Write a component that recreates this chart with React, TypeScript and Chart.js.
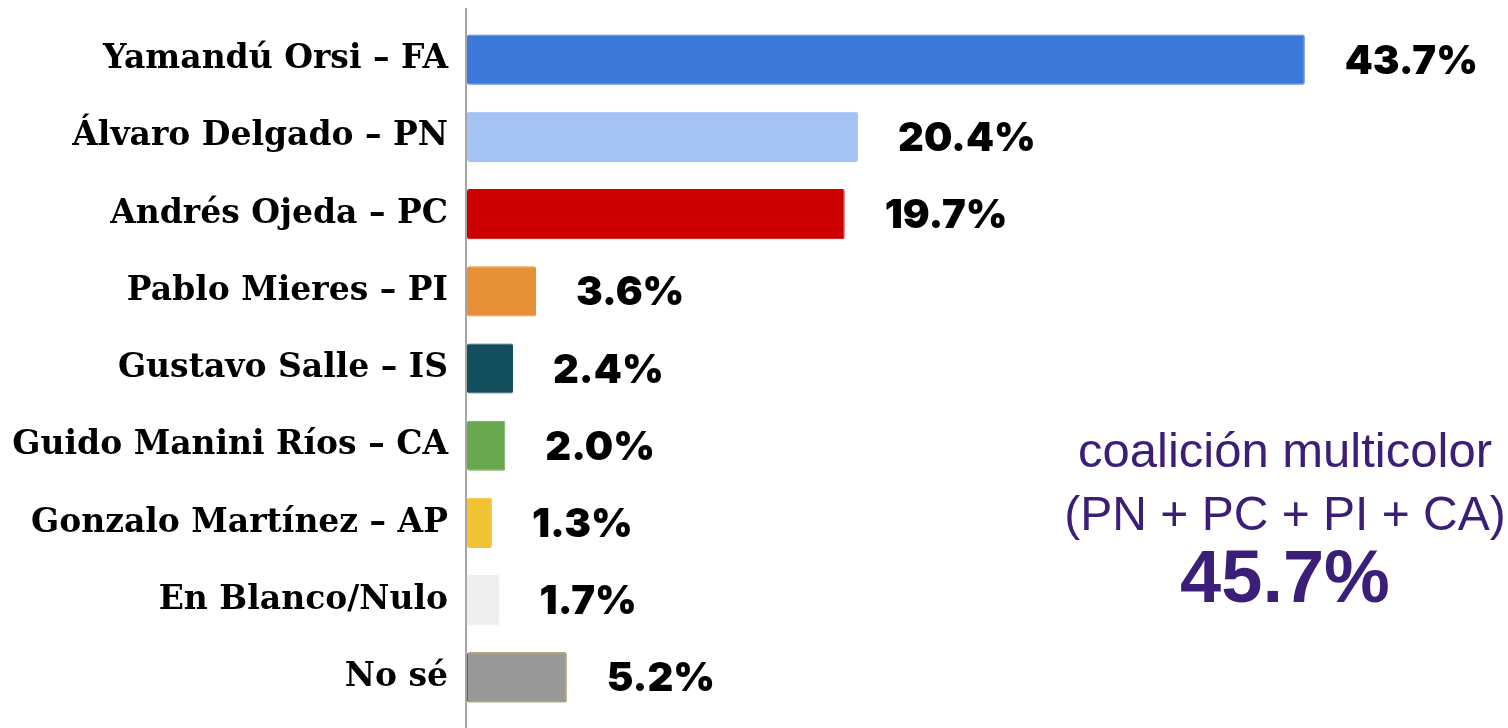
import React, { useEffect, useRef } from "react";
import { Chart, registerables } from "chart.js";

Chart.register(...registerables);

const categories = [
  "Yamandú Orsi – FA",
  "Álvaro Delgado – PN",
  "Andrés Ojeda – PC",
  "Pablo Mieres – PI",
  "Gustavo Salle – IS",
  "Guido Manini Ríos – CA",
  "Gonzalo Martínez – AP",
  "En Blanco/Nulo",
  "No sé",
];
const values = [43.7, 20.4, 19.7, 3.6, 2.4, 2.0, 1.3, 1.7, 5.2];
const barColors = [
  "#3c78d8",
  "#a4c2f4",
  "#cc0000",
  "#e69138",
  "#134f5c",
  "#6aa84f",
  "#f1c232",
  "#efefef",
  "#999999",
];
const barBorders = [
  "#3c78d8",
  "#a4c2f4",
  "#cc0000",
  "#e69138",
  "#134f5c",
  "#6aa84f",
  "#f1c232",
  "#efefef",
  "#7f6000",
];
const annotationLines = ["coalición multicolor", "(PN + PC + PI + CA)"];
const annotationTotal = "45.7%";

const axisLinePlugin = {
  id: "axisLine",
  beforeDatasetsDraw(chart: any) {
    const { ctx, chartArea } = chart;
    ctx.save();
    ctx.strokeStyle = "#a6a6a6";
    ctx.lineWidth = 2;
    ctx.beginPath();
    ctx.moveTo(chartArea.left - 1, 8);
    ctx.lineTo(chartArea.left - 1, chart.height);
    ctx.stroke();
    ctx.restore();
  },
};

const valueLabelPlugin = {
  id: "valueLabels",
  afterDatasetsDraw(chart: any) {
    const { ctx } = chart;
    const meta = chart.getDatasetMeta(0);
    ctx.save();
    ctx.fillStyle = "#000";
    ctx.font = "900 40px Inter, 'Liberation Sans', sans-serif";
    ctx.textAlign = "left";
    ctx.textBaseline = "middle";
    meta.data.forEach((bar: any, i: number) => {
      const v = chart.data.datasets[0].data[i] as number;
      ctx.fillText(`${v.toFixed(1)}%`, bar.x + 40, bar.y + 2);
    });
    ctx.restore();
  },
};

export default function App() {
  const canvasRef = useRef<HTMLCanvasElement | null>(null);

  useEffect(() => {
    if (!canvasRef.current) return;
    const chart = new Chart(canvasRef.current, {
      type: "bar",
      data: {
        labels: categories,
        datasets: [
          {
            data: values,
            backgroundColor: barColors,
            borderColor: barBorders,
            borderWidth: 1,
            borderRadius: 2,
            borderSkipped: false,
            barPercentage: 0.65,
            categoryPercentage: 1,
          },
        ],
      },
      options: {
        indexAxis: "y",
        animation: false,
        responsive: false,
        maintainAspectRatio: false,
        layout: { padding: { top: 21, bottom: 12, left: 0, right: 0 } },
        plugins: {
          legend: { display: false },
          tooltip: { enabled: false },
        },
        scales: {
          x: { display: false, min: 0, max: 54.3 },
          y: {
            grid: { display: false, drawTicks: false },
            border: { display: false },
            ticks: {
              color: "#000",
              padding: 19,
              font: { family: "'DejaVu Serif', serif", weight: "bold", size: 33 },
            },
            afterFit(scale: any) {
              scale.width = 467;
              scale.paddingTop = 0;
              scale.paddingBottom = 0;
            },
          },
        },
      },
      plugins: [axisLinePlugin, valueLabelPlugin],
    });
    return () => chart.destroy();
  }, []);

  const purple = "#3b1e78";
  const lineStyle: React.CSSProperties = {
    position: "absolute",
    left: 1035,
    width: 500,
    textAlign: "center",
    color: purple,
    fontFamily: "'Liberation Sans', Arial, sans-serif",
    whiteSpace: "nowrap",
  };

  return (
    <div style={{ position: "fixed", left: 0, top: 0, width: 1508, height: 728, background: "#fff" }}>
      <canvas ref={canvasRef} width={1508} height={728} style={{ display: "block" }} />
      <div style={{ ...lineStyle, top: 426, fontSize: 49, lineHeight: "49px" }}>{annotationLines[0]}</div>
      <div style={{ ...lineStyle, top: 490, fontSize: 48, lineHeight: "48px" }}>{annotationLines[1]}</div>
      <div style={{ ...lineStyle, top: 540, fontSize: 74, lineHeight: "74px", fontWeight: "bold" }}>
        {annotationTotal}
      </div>
    </div>
  );
}
